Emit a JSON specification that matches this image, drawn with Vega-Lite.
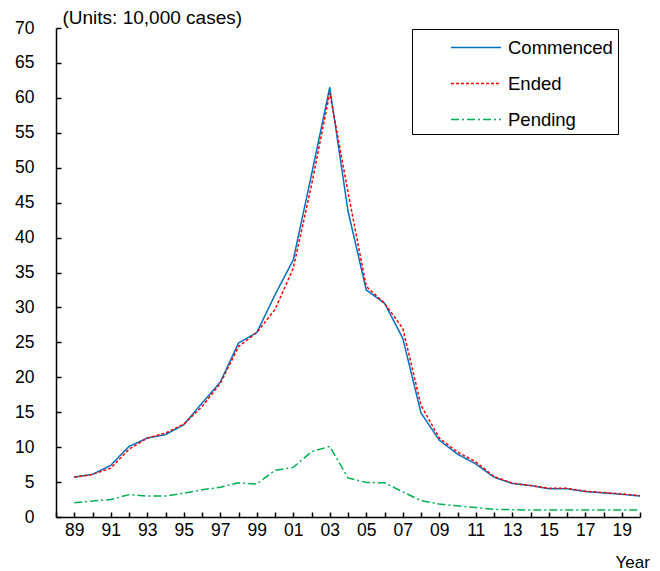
{
  "$schema": "https://vega.github.io/schema/vega-lite/v6.json",
  "width": 584,
  "height": 489,
  "autosize": {"type": "none"},
  "padding": {"left": 56, "top": 28, "right": 20, "bottom": 54},
  "config": {
    "font": "Liberation Sans",
    "view": {"stroke": null},
    "axis": {"grid": false, "domainColor": "#000", "domainWidth": 1.5, "tickColor": "#000", "tickWidth": 1.5, "labelColor": "#000", "titleColor": "#000", "labelFont": "Liberation Sans", "titleFont": "Liberation Sans", "titleFontWeight": "normal"},
    "legend": {
      "orient": "none",
      "legendX": 356,
      "legendY": 1,
      "strokeColor": "#000",
      "fillColor": "#fff",
      "padding": 5,
      "symbolType": "M-2,0H2",
      "symbolSize": 625,
      "symbolStrokeWidth": 1.5,
      "symbolOffset": 45.5,
      "labelFontSize": 18.5,
      "labelColor": "#000",
      "labelOffset": 18.5,
      "rowPadding": 13
    }
  },
  "data": {
    "values": [
      {"year": 1989, "series": "Commenced", "value": 5.7},
      {"year": 1990, "series": "Commenced", "value": 6.1},
      {"year": 1991, "series": "Commenced", "value": 7.4},
      {"year": 1992, "series": "Commenced", "value": 10.1},
      {"year": 1993, "series": "Commenced", "value": 11.3},
      {"year": 1994, "series": "Commenced", "value": 11.8},
      {"year": 1995, "series": "Commenced", "value": 13.2},
      {"year": 1996, "series": "Commenced", "value": 16.3},
      {"year": 1997, "series": "Commenced", "value": 19.3},
      {"year": 1998, "series": "Commenced", "value": 24.9},
      {"year": 1999, "series": "Commenced", "value": 26.4},
      {"year": 2000, "series": "Commenced", "value": 31.8},
      {"year": 2001, "series": "Commenced", "value": 36.8},
      {"year": 2002, "series": "Commenced", "value": 49.0},
      {"year": 2003, "series": "Commenced", "value": 61.5},
      {"year": 2004, "series": "Commenced", "value": 43.8},
      {"year": 2005, "series": "Commenced", "value": 32.5},
      {"year": 2006, "series": "Commenced", "value": 30.6},
      {"year": 2007, "series": "Commenced", "value": 25.6},
      {"year": 2008, "series": "Commenced", "value": 14.9},
      {"year": 2009, "series": "Commenced", "value": 11.0},
      {"year": 2010, "series": "Commenced", "value": 9.0},
      {"year": 2011, "series": "Commenced", "value": 7.6},
      {"year": 2012, "series": "Commenced", "value": 5.7},
      {"year": 2013, "series": "Commenced", "value": 4.8},
      {"year": 2014, "series": "Commenced", "value": 4.5},
      {"year": 2015, "series": "Commenced", "value": 4.05},
      {"year": 2016, "series": "Commenced", "value": 4.05},
      {"year": 2017, "series": "Commenced", "value": 3.65},
      {"year": 2018, "series": "Commenced", "value": 3.45},
      {"year": 2019, "series": "Commenced", "value": 3.25},
      {"year": 2020, "series": "Commenced", "value": 3.0},
      {"year": 1989, "series": "Ended", "value": 5.7},
      {"year": 1990, "series": "Ended", "value": 6.1},
      {"year": 1991, "series": "Ended", "value": 7.0},
      {"year": 1992, "series": "Ended", "value": 9.7},
      {"year": 1993, "series": "Ended", "value": 11.3},
      {"year": 1994, "series": "Ended", "value": 12.0},
      {"year": 1995, "series": "Ended", "value": 13.3},
      {"year": 1996, "series": "Ended", "value": 15.8},
      {"year": 1997, "series": "Ended", "value": 19.1},
      {"year": 1998, "series": "Ended", "value": 24.4},
      {"year": 1999, "series": "Ended", "value": 26.4},
      {"year": 2000, "series": "Ended", "value": 29.7},
      {"year": 2001, "series": "Ended", "value": 35.6},
      {"year": 2002, "series": "Ended", "value": 47.5},
      {"year": 2003, "series": "Ended", "value": 60.7},
      {"year": 2004, "series": "Ended", "value": 46.5},
      {"year": 2005, "series": "Ended", "value": 33.0},
      {"year": 2006, "series": "Ended", "value": 30.6},
      {"year": 2007, "series": "Ended", "value": 27.0},
      {"year": 2008, "series": "Ended", "value": 16.0},
      {"year": 2009, "series": "Ended", "value": 11.3},
      {"year": 2010, "series": "Ended", "value": 9.3},
      {"year": 2011, "series": "Ended", "value": 7.9},
      {"year": 2012, "series": "Ended", "value": 5.8},
      {"year": 2013, "series": "Ended", "value": 4.85},
      {"year": 2014, "series": "Ended", "value": 4.5},
      {"year": 2015, "series": "Ended", "value": 4.1},
      {"year": 2016, "series": "Ended", "value": 4.1},
      {"year": 2017, "series": "Ended", "value": 3.7},
      {"year": 2018, "series": "Ended", "value": 3.5},
      {"year": 2019, "series": "Ended", "value": 3.3},
      {"year": 2020, "series": "Ended", "value": 3.05},
      {"year": 1989, "series": "Pending", "value": 2.05},
      {"year": 1990, "series": "Pending", "value": 2.3},
      {"year": 1991, "series": "Pending", "value": 2.5},
      {"year": 1992, "series": "Pending", "value": 3.2},
      {"year": 1993, "series": "Pending", "value": 3.0},
      {"year": 1994, "series": "Pending", "value": 3.0},
      {"year": 1995, "series": "Pending", "value": 3.4},
      {"year": 1996, "series": "Pending", "value": 3.9},
      {"year": 1997, "series": "Pending", "value": 4.25},
      {"year": 1998, "series": "Pending", "value": 4.9},
      {"year": 1999, "series": "Pending", "value": 4.7},
      {"year": 2000, "series": "Pending", "value": 6.7},
      {"year": 2001, "series": "Pending", "value": 7.1},
      {"year": 2002, "series": "Pending", "value": 9.35},
      {"year": 2003, "series": "Pending", "value": 10.1},
      {"year": 2004, "series": "Pending", "value": 5.6},
      {"year": 2005, "series": "Pending", "value": 4.95},
      {"year": 2006, "series": "Pending", "value": 4.9},
      {"year": 2007, "series": "Pending", "value": 3.6},
      {"year": 2008, "series": "Pending", "value": 2.35},
      {"year": 2009, "series": "Pending", "value": 1.85},
      {"year": 2010, "series": "Pending", "value": 1.6},
      {"year": 2011, "series": "Pending", "value": 1.35},
      {"year": 2012, "series": "Pending", "value": 1.1},
      {"year": 2013, "series": "Pending", "value": 1.05},
      {"year": 2014, "series": "Pending", "value": 1.0},
      {"year": 2015, "series": "Pending", "value": 1.0},
      {"year": 2016, "series": "Pending", "value": 1.0},
      {"year": 2017, "series": "Pending", "value": 1.0},
      {"year": 2018, "series": "Pending", "value": 1.0},
      {"year": 2019, "series": "Pending", "value": 1.0},
      {"year": 2020, "series": "Pending", "value": 1.0}
    ]
  },
  "mark": {"type": "line", "strokeWidth": 1.5},
  "encoding": {
    "x": {
      "field": "year",
      "type": "quantitative",
      "scale": {"domain": [1988, 2020], "nice": false, "zero": false},
      "axis": {
        "values": [1988,1989,1990,1991,1992,1993,1994,1995,1996,1997,1998,1999,2000,2001,2002,2003,2004,2005,2006,2007,2008,2009,2010,2011,2012,2013,2014,2015,2016,2017,2018,2019,2020],
        "labelExpr": "datum.value % 2 == 1 ? substring(toString(datum.value), 2) : ''",
        "labelFontSize": 17.5,
        "labelPadding": 9,
        "tickSize": -5,
        "labelFlush": false,
        "labelOverlap": false,
        "title": "Year",
        "titleFontSize": 17,
        "titleAlign": "left",
        "titleBaseline": "middle",
        "titleX": 559,
        "titleY": 45
      }
    },
    "y": {
      "field": "value",
      "type": "quantitative",
      "scale": {"domain": [0, 70], "nice": false},
      "axis": {
        "values": [0,5,10,15,20,25,30,35,40,45,50,55,60,65,70],
        "labelFontSize": 17.5,
        "labelPadding": 27,
        "tickSize": -5,
        "labelFlush": false,
        "labelOverlap": false,
        "title": "(Units: 10,000 cases)",
        "titleFontSize": 19,
        "titleAngle": 0,
        "titleAlign": "left",
        "titleBaseline": "middle",
        "titleX": 6,
        "titleY": -11
      }
    },
    "color": {
      "field": "series",
      "type": "nominal",
      "title": null,
      "scale": {"domain": ["Commenced", "Ended", "Pending"], "range": ["#0070C0", "#FF0000", "#00B050"]},
      "legend": {"labelExpr": "datum.label + '\u00a0\u00a0\u00a0'"}
    },
    "strokeDash": {
      "field": "series",
      "type": "nominal",
      "title": null,
      "scale": {"domain": ["Commenced", "Ended", "Pending"], "range": [[1, 0], [3, 2], [8, 3, 2, 3]]},
      "legend": {"labelExpr": "datum.label + '\u00a0\u00a0\u00a0'"}
    }
  }
}
